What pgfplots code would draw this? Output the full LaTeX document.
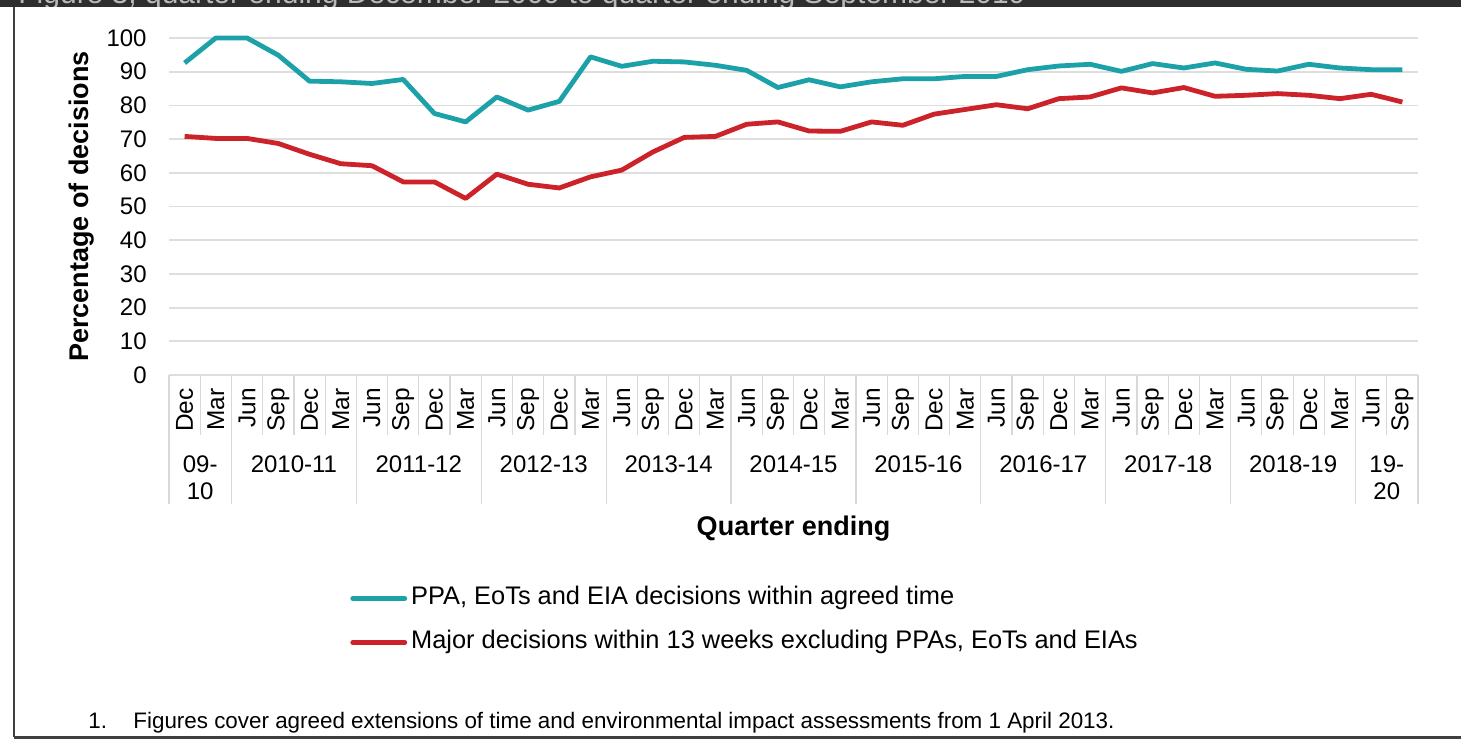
\documentclass[border=0pt]{standalone}
\usepackage{fontspec}
\setmainfont{Liberation Sans}
\usepackage{pgfplots}
\usepackage{pgfplotstable}
\pgfplotsset{compat=1.18}

\definecolor{ppateal}{HTML}{1DA1A9}
\definecolor{majred}{HTML}{CC2229}
\definecolor{gridgrey}{HTML}{DEDEDE}
\definecolor{sepgrey}{HTML}{D8D8D8}
\definecolor{bandgrey}{HTML}{2E2E2E}

% quarter index (0 = Dec 2009), PPA/EoT/EIA within agreed time, majors within 13 weeks
\pgfplotstableread{
q ppa major
0 92.6 70.8
1 100 70.2
2 100 70.2
3 94.9 68.7
4 87.2 65.5
5 87.0 62.7
6 86.5 62.1
7 87.7 57.3
8 77.6 57.3
9 75.1 52.4
10 82.5 59.6
11 78.6 56.6
12 81.2 55.5
13 94.4 58.8
14 91.6 60.8
15 93.1 66.2
16 92.9 70.5
17 91.9 70.8
18 90.4 74.4
19 85.3 75.1
20 87.6 72.4
21 85.5 72.3
22 87.0 75.1
23 87.9 74.1
24 87.9 77.4
25 88.6 78.8
26 88.6 80.2
27 90.6 79.0
28 91.7 82.0
29 92.2 82.5
30 90.1 85.2
31 92.4 83.7
32 91.1 85.3
33 92.6 82.7
34 90.7 83.0
35 90.2 83.5
36 92.2 83.0
37 91.1 82.0
38 90.6 83.3
39 90.6 81.0
}\decisions

\begin{document}
\begin{tikzpicture}
\useasboundingbox (0,0) rectangle (730.5pt,370pt);

% frame and cut-off title band (1 unit = 1 px of the source)
\begin{scope}[x=0.5pt,y=0.5pt]
  \fill[bandgrey] (0,733) rectangle (1461,740);
  \begin{scope}
    \clip (0,733) rectangle (1461,740);
    \node[anchor=base west, inner sep=0pt, text=gray!55, font=\fontsize{15}{18}\selectfont]
      at (18,736) {Figure 3, quarter ending December 2009 to quarter ending September 2019};
  \end{scope}
  \draw[black!75, line width=1pt] (14,733) -- (14,3);
  \draw[black!75, line width=1.5pt] (13.5,3) -- (1461,3);
\end{scope}

\begin{axis}[
  at={(84.5pt,182.5pt)}, anchor=south west,
  scale only axis, width=624.5pt, height=168.5pt,
  xmin=-0.5, xmax=39.5, ymin=0, ymax=100,
  clip=false,
  axis line style={draw=none},
  tick style={draw=none},
  ymajorgrids, grid style={gridgrey, line width=0.9pt},
  ytick={0,10,...,100},
  /pgf/number format/assume math mode=true,
  yticklabel style={font=\fontsize{12}{14}\selectfont, inner sep=0pt, anchor=east, xshift=-11pt},
  xtick={0,...,39},
  xticklabels={Dec,Mar,
    Jun,Sep,Dec,Mar, Jun,Sep,Dec,Mar, Jun,Sep,Dec,Mar,
    Jun,Sep,Dec,Mar, Jun,Sep,Dec,Mar, Jun,Sep,Dec,Mar,
    Jun,Sep,Dec,Mar, Jun,Sep,Dec,Mar, Jun,Sep,Dec,Mar,
    Jun,Sep},
  xticklabel style={font=\fontsize{12.2}{14}\selectfont, inner sep=0pt, yshift=-6.5pt, rotate=90, anchor=east},
  xlabel={Quarter ending},
  ylabel={Percentage of decisions},
  every axis x label/.style={at={(axis description cs:0.5,-0.475)}, anchor=base,
    font=\bfseries\fontsize{13.5}{16}\selectfont},
  every axis y label/.style={at={(axis description cs:-0.070,0.5)}, rotate=90, anchor=center,
    font=\bfseries\fontsize{13.5}{16}\selectfont},
  legend style={at={(axis description cs:0.1449,-0.626)}, anchor=north west,
    draw=none, fill=none, inner sep=0pt, row sep=10pt,
    font=\fontsize{12.7}{15}\selectfont,
    nodes={inner sep=0pt, text height=9pt, text depth=3pt},
    /tikz/every odd column/.append style={column sep=2pt}},
  legend cell align=left,
  legend image code/.code={\draw[#1, line cap=round] (1.2pt,0pt) -- (27.2pt,0pt);},
]
\addplot[ppateal, line width=2.4pt, line join=round] table[x=q, y=ppa] {\decisions};
\addlegendentry{PPA, EoTs and EIA decisions within agreed time}
\addplot[majred, line width=2.4pt, line join=round] table[x=q, y=major] {\decisions};
\addlegendentry{Major decisions within 13 weeks excluding PPAs, EoTs and EIAs}
\end{axis}

% category box under the axis and financial-year labels
\begin{scope}[x=0.5pt,y=0.5pt]
  \foreach \k in {0,...,40}
    \draw[sepgrey, line width=0.6pt] ({169+31.225*\k},365) -- ({169+31.225*\k},305);
  \foreach \k in {0,2,6,10,14,18,22,26,30,34,38,40}
    \draw[sepgrey, line width=0.6pt] ({169+31.225*\k},365) -- ({169+31.225*\k},236);
  \foreach \c/\t in {1/{09-\\10},4/{2010-11},8/{2011-12},12/{2012-13},16/{2013-14},
      20/{2014-15},24/{2015-16},28/{2016-17},32/{2017-18},36/{2018-19},39/{19-\\20}}
    \node[anchor=north, inner sep=0pt, align=center, font=\fontsize{12}{13.5}\selectfont]
      at ({169+31.225*\c},285) {\t};

  \node[anchor=base west, inner sep=0pt, font=\fontsize{11.2}{13}\selectfont] at (88,12) {1.};
  \node[anchor=base west, inner sep=0pt, font=\fontsize{11.2}{13}\selectfont] at (133,12)
    {Figures cover agreed extensions of time and environmental impact assessments from 1 April 2013.};
\end{scope}
\end{tikzpicture}
\end{document}
